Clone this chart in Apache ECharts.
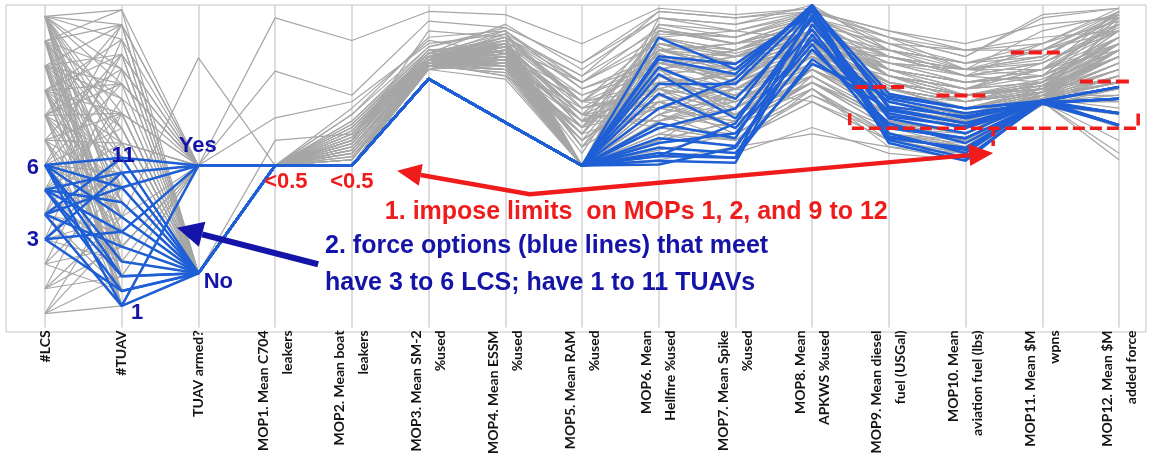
<!DOCTYPE html>
<html>
<head>
<meta charset="utf-8">
<script src="https://cdn.jsdelivr.net/npm/echarts@6/dist/echarts.min.js"></script>
<style>
  html, body { margin: 0; padding: 0; background: #fff; }
  #chart { width: 1153px; height: 457px; }
</style>
</head>
<body>
<div id="chart"></div>
<script>
const dimensions = [
  '#LCS', '#TUAV', 'TUAV armed?',
  'MOP1. Mean C704\nleakers', 'MOP2. Mean boat\nleakers', 'MOP3. Mean SM-2\n%used',
  'MOP4. Mean ESSM\n%used', 'MOP5. Mean RAM\n%used', 'MOP6. Mean\nHellfire %used',
  'MOP7. Mean Spike\n%used', 'MOP8. Mean\nAPKWS %used', 'MOP9. Mean diesel\nfuel (USGal)',
  'MOP10. Mean\naviation fuel (lbs)', 'MOP11. Mean $M\nwpns', 'MOP12. Mean $M\nadded force'
];

// columns: #LCS, #TUAV, armed (0 = No, 1 = Yes, 2 = other), then MOP1..MOP12 as % of axis height
const grayOptions = [
  [12, 21, 1, 96, 89, 98, 97, 88, 99, 97, 99, 90, 84, 97, 99],
  [12, 19, 1, 79.5, 72, 95, 93, 82, 96, 94, 100, 86, 80, 92, 97],
  [12, 17, 0, 50.2, 58, 92, 90, 78, 92, 90, 97, 84, 78, 88, 95],
  [12, 14, 1, 50.2, 50.2, 83, 86, 50.2, 88, 85, 92, 80, 74, 82, 93],
  [12, 11, 0, 50.2, 55, 82, 80, 62, 85, 76, 90, 78, 70, 76, 90],
  [12, 8, 0, 50.2, 50.2, 81, 84, 50.2, 72, 80, 88, 75, 66, 73, 88],
  [12, 5, 0, 50.2, 62, 84, 88, 70, 90, 84, 95, 72, 68, 71, 86],
  [11, 20, 1, 50.2, 50.2, 82, 78, 50.2, 80, 66, 85, 70, 72, 74, 84],
  [11, 15, 0, 50.2, 53, 81, 83, 58, 76, 72, 82, 68, 64, 72, 82],
  [11, 10, 0, 50.2, 50.2, 80, 86, 50.2, 68, 70, 80, 66, 62, 73, 80],
  [11, 6, 1, 50.2, 57, 83, 82, 66, 62, 58, 78, 64, 60, 70, 78],
  [11, 3, 0, 50.2, 50.2, 82, 89, 50.2, 58, 64, 76, 62, 58, 75, 76],
  [10, 18, 1, 50.2, 66, 90, 92, 74, 84, 82, 94, 88, 86, 90, 92],
  [10, 13, 0, 50.2, 50.2, 81, 79, 50.2, 55, 60, 72, 60, 57, 69, 74],
  [10, 9, 0, 50.2, 52, 82, 84, 60, 87, 78, 86, 76, 72, 77, 88],
  [10, 7, 2, 50.2, 50.2, 83, 81, 50.2, 64, 74, 70, 58, 56, 72, 72],
  [10, 4, 0, 50.2, 60, 84, 90, 76, 93, 88, 91, 82, 76, 80, 86],
  [9, 16, 1, 50.2, 50.2, 82, 87, 50.2, 94, 92, 89, 84, 80, 84, 96],
  [9, 12, 0, 50.2, 54, 81, 83, 64, 78, 68, 84, 74, 70, 74, 84],
  [9, 8, 0, 50.2, 50.2, 80, 77, 50.2, 60, 56, 74, 56, 54, 70, 58],
  [9, 5, 1, 50.2, 68, 89, 85, 72, 82, 86, 96, 78, 74, 78, 90],
  [9, 2, 0, 50.2, 50.2, 82, 88, 56, 70, 62, 80, 70, 66, 72, 80],
  [8, 17, 0, 50.2, 52, 82, 86, 50.2, 86, 80, 88, 62, 60, 73, 82],
  [8, 11, 1, 50.2, 50.2, 81, 80, 50.2, 66, 76, 92, 86, 82, 86, 94],
  [8, 7, 0, 50.2, 59, 83, 91, 68, 74, 70, 78, 66, 64, 71, 76],
  [8, 3, 0, 50.2, 50.2, 81, 84, 50.2, 56, 54, 62, 54, 52, 70, 54],
  [7, 14, 0, 50.2, 56, 82, 78, 62, 91, 90, 98, 90, 80, 83, 98],
  [7, 9, 1, 50.2, 50.2, 80, 82, 50.2, 80, 84, 86, 72, 68, 74, 86],
  [7, 6, 0, 50.2, 63, 85, 94, 80, 96, 92, 97, 80, 72, 76, 90],
  [7, 2, 0, 50.2, 50.2, 82, 86, 50.2, 62, 66, 82, 68, 63, 72, 78],
  [6, 13, 0, 50.2, 50.2, 81, 83, 50.2, 72, 62, 76, 64, 60, 71, 74],
  [6, 10, 1, 50.2, 55, 83, 87, 66, 88, 82, 90, 76, 70, 75, 84],
  [5, 12, 0, 50.2, 50.2, 82, 80, 50.2, 58, 72, 84, 74, 68, 73, 80],
  [5, 8, 0, 50.2, 61, 84, 89, 70, 76, 78, 88, 70, 66, 72, 82],
  [4, 15, 1, 50.2, 50.2, 81, 84, 50.2, 84, 74, 80, 66, 62, 72, 76],
  [4, 6, 0, 50.2, 53, 80, 82, 60, 68, 64, 74, 60, 58, 70, 72],
  [3, 11, 0, 50.2, 50.2, 82, 85, 54, 90, 86, 92, 78, 74, 80, 88],
  [3, 4, 0, 50.2, 58, 83, 81, 64, 64, 70, 82, 72, 70, 74, 84],
  [2, 9, 0, 50.2, 50.2, 81, 86, 50.2, 78, 82, 86, 84, 78, 82, 92],
  [2, 5, 1, 50.2, 57, 84, 90, 74, 82, 76, 84, 68, 62, 71, 76],
  [1, 7, 0, 50.2, 50.2, 82, 83, 50.2, 70, 60, 72, 62, 56, 70, 70],
  [1, 3, 0, 50.2, 64, 86, 88, 66, 86, 88, 94, 80, 76, 78, 88],
  [0, 6, 0, 50.2, 50.2, 81, 80, 50.2, 60, 68, 80, 70, 64, 72, 78],
  [0, 1, 0, 50.2, 52, 82, 84, 58, 74, 80, 90, 76, 72, 76, 86],
  [12, 13, 0, 50.2, 50.2, 82, 87, 50.2, 66, 58, 70, 58, 54, 69, 66],
  [11, 12, 1, 65, 70, 88, 91, 78, 98, 96, 98, 92, 88, 94, 96],
  [10, 16, 0, 58, 60, 86, 84, 70, 80, 72, 86, 74, 70, 76, 86],
  [9, 10, 0, 50.2, 50.2, 80, 88, 50.2, 52, 56, 60, 56, 52, 70, 52],
  [12, 9, 0, 50.2, 66, 87, 92, 76, 88, 84, 92, 82, 80, 86, 92],
  [11, 4, 1, 50.2, 50.2, 81, 84, 50.2, 76, 66, 76, 64, 60, 72, 74],
  [10, 2, 0, 50.2, 55, 83, 86, 62, 92, 88, 94, 78, 74, 80, 90],
  [8, 14, 0, 50.2, 50.2, 82, 82, 50.2, 70, 74, 84, 72, 68, 73, 82],
  [6, 16, 1, 50.2, 59, 84, 81, 68, 82, 78, 88, 76, 72, 75, 84],
  [9, 19, 0, 50.2, 50.2, 83, 90, 50.2, 86, 82, 90, 80, 76, 78, 88],
  [12, 20, 0, 50.2, 50.2, 82, 85, 50.2, 78, 74, 88, 74, 70, 73, 95],
  [12, 16, 1, 50.2, 56, 83, 88, 64, 94, 90, 96, 86, 78, 80, 98],
  [12, 12, 0, 50.2, 50.2, 81, 82, 50.2, 70, 66, 80, 68, 64, 72, 86],
  [12, 7, 1, 50.2, 61, 85, 91, 70, 86, 80, 92, 82, 76, 78, 97],
  [12, 3, 0, 50.2, 50.2, 82, 86, 50.2, 64, 72, 86, 76, 72, 74, 90],
  [12, 1, 0, 50.2, 54, 81, 80, 58, 74, 62, 76, 62, 58, 71, 80],
  [11, 21, 0, 50.2, 50.2, 84, 92, 50.2, 96, 94, 98, 92, 86, 88, 99],
  [11, 17, 1, 50.2, 63, 86, 87, 76, 90, 86, 94, 80, 74, 76, 92],
  [11, 13, 0, 50.2, 50.2, 82, 84, 50.2, 82, 78, 90, 70, 66, 72, 88],
  [11, 8, 0, 50.2, 58, 83, 86, 62, 68, 76, 84, 78, 72, 74, 94],
  [11, 5, 1, 50.2, 50.2, 81, 79, 50.2, 60, 58, 70, 60, 56, 71, 68],
  [11, 1, 0, 50.2, 52, 82, 85, 56, 86, 84, 90, 74, 68, 73, 84],
  [10, 20, 1, 50.2, 50.2, 83, 88, 50.2, 92, 88, 96, 88, 82, 84, 97],
  [10, 15, 0, 50.2, 57, 84, 86, 66, 76, 70, 82, 66, 62, 71, 78],
  [10, 11, 1, 50.2, 50.2, 81, 83, 50.2, 88, 82, 92, 82, 78, 76, 96],
  [10, 6, 0, 50.2, 62, 85, 89, 72, 80, 86, 94, 84, 80, 82, 92],
  [10, 1, 0, 50.2, 50.2, 82, 84, 50.2, 58, 64, 78, 64, 60, 72, 76],
  [9, 18, 0, 50.2, 54, 82, 80, 60, 84, 76, 86, 72, 68, 73, 84],
  [9, 14, 1, 50.2, 50.2, 83, 90, 50.2, 90, 92, 98, 90, 84, 96, 99],
  [9, 7, 0, 50.2, 59, 84, 87, 68, 72, 68, 80, 70, 66, 72, 82],
  [9, 3, 1, 50.2, 50.2, 81, 82, 50.2, 66, 72, 88, 80, 76, 78, 90],
  [8, 20, 0, 50.2, 50.2, 82, 86, 50.2, 80, 84, 92, 84, 80, 80, 94],
  [8, 16, 1, 50.2, 60, 85, 84, 70, 74, 66, 78, 64, 58, 70, 74],
  [8, 9, 0, 50.2, 50.2, 81, 88, 50.2, 84, 80, 86, 76, 72, 75, 88],
  [8, 5, 0, 50.2, 55, 82, 83, 60, 92, 90, 96, 86, 82, 86, 97],
  [8, 1, 1, 50.2, 50.2, 82, 80, 50.2, 62, 60, 74, 58, 54, 70, 62],
  [7, 18, 0, 50.2, 50.2, 83, 89, 50.2, 88, 86, 92, 78, 74, 76, 92],
  [7, 12, 1, 50.2, 58, 84, 86, 66, 70, 74, 86, 74, 70, 73, 86],
  [7, 4, 0, 50.2, 50.2, 81, 84, 50.2, 78, 70, 82, 68, 64, 72, 80],
  [6, 20, 0, 50.2, 64, 87, 93, 82, 98, 96, 99, 88, 80, 78, 96],
  [6, 8, 0, 50.2, 50.2, 82, 81, 50.2, 66, 62, 76, 66, 62, 71, 78],
  [6, 5, 1, 50.2, 52, 81, 85, 56, 80, 78, 88, 80, 76, 80, 92],
  [5, 18, 1, 50.2, 50.2, 83, 88, 50.2, 86, 88, 94, 84, 78, 82, 94],
  [5, 14, 0, 50.2, 60, 84, 83, 64, 74, 80, 90, 78, 72, 74, 88],
  [5, 4, 0, 50.2, 50.2, 81, 86, 50.2, 62, 58, 72, 62, 58, 70, 70],
  [4, 19, 0, 50.2, 50.2, 82, 84, 50.2, 90, 84, 90, 76, 70, 73, 86],
  [4, 10, 1, 50.2, 56, 83, 87, 62, 78, 72, 84, 72, 68, 72, 82],
  [4, 2, 0, 50.2, 50.2, 81, 82, 50.2, 72, 76, 86, 82, 80, 84, 96],
  [3, 17, 1, 50.2, 50.2, 82, 86, 50.2, 82, 80, 88, 86, 82, 88, 98],
  [3, 7, 0, 50.2, 62, 85, 90, 70, 68, 64, 76, 64, 60, 71, 74],
  [2, 14, 0, 50.2, 50.2, 82, 84, 50.2, 74, 70, 84, 70, 66, 72, 84],
  [2, 2, 0, 50.2, 54, 81, 81, 58, 86, 82, 92, 78, 72, 75, 90],
  [1, 12, 1, 50.2, 50.2, 82, 87, 50.2, 92, 88, 96, 90, 86, 86, 98],
  [1, 5, 0, 50.2, 58, 84, 88, 66, 64, 68, 80, 66, 62, 71, 76],
  [0, 9, 0, 50.2, 50.2, 81, 83, 50.2, 80, 74, 86, 74, 70, 73, 86],
  [0, 3, 1, 50.2, 60, 83, 86, 64, 70, 60, 74, 60, 56, 70, 72]
];

const blueOptions = [
  [6, 1, 0, 50.2, 50.2, 77.1, 63.6, 50.2, 89.9, 80.1, 99.1, 72.5, 67.9, 70.3, 74.6],
  [6, 4, 0, 50.2, 50.2, 77.1, 63.6, 50.2, 84.1, 81.7, 97.9, 70.9, 66.4, 69.7, 70.9],
  [6, 9, 1, 50.2, 50.2, 77.1, 63.6, 50.2, 83.2, 78.6, 100, 67.9, 63.3, 70.0, 66.4],
  [6, 11, 0, 50.2, 50.2, 77.1, 63.6, 50.2, 80.7, 70.9, 95.4, 64.8, 60.2, 70.3, 62.7],
  [6, 7, 0, 50.2, 50.2, 77.1, 63.6, 50.2, 78.6, 64.8, 92.4, 61.8, 58.7, 69.4, 70.9],
  [5, 2, 0, 50.2, 50.2, 77.1, 63.6, 50.2, 75.5, 75.5, 98.5, 58.7, 55.7, 69.7, 66.4],
  [5, 6, 1, 50.2, 50.2, 77.1, 63.6, 50.2, 72.5, 61.8, 89.3, 70.0, 64.8, 70.0, 74.6],
  [5, 10, 0, 50.2, 50.2, 77.1, 63.6, 50.2, 63.3, 58.7, 96.9, 57.2, 51.7, 70.3, 62.7],
  [5, 3, 0, 50.2, 50.2, 77.1, 63.6, 50.2, 58.7, 56.3, 86.2, 63.3, 57.2, 69.7, 70.9],
  [5, 8, 0, 50.2, 50.2, 77.1, 63.6, 50.2, 55.7, 54.1, 81.7, 71.6, 67.9, 70.0, 66.4],
  [4, 1, 1, 50.2, 50.2, 77.1, 63.6, 50.2, 53.2, 52.6, 99.1, 60.2, 54.1, 70.3, 74.6],
  [4, 5, 0, 50.2, 50.2, 77.1, 63.6, 50.2, 51.7, 51.1, 93.9, 66.4, 61.8, 69.4, 62.7],
  [4, 9, 0, 50.2, 50.2, 77.1, 63.6, 50.2, 50.5, 55.7, 90.8, 62.4, 58.7, 69.7, 70.9],
  [4, 11, 1, 50.2, 50.2, 77.1, 63.6, 50.2, 67.9, 77.1, 100, 68.5, 65.4, 70.3, 66.4],
  [3, 2, 0, 50.2, 50.2, 77.1, 63.6, 50.2, 57.2, 60.2, 87.8, 59.3, 55.0, 70.0, 62.7],
  [3, 6, 0, 50.2, 50.2, 77.1, 63.6, 50.2, 53.2, 63.3, 96.0, 65.4, 62.4, 70.3, 74.6],
  [3, 10, 1, 50.2, 50.2, 77.1, 63.6, 50.2, 61.8, 67.9, 98.5, 58.1, 52.6, 69.7, 70.9],
  [6, 3, 0, 50.2, 50.2, 77.1, 63.6, 50.2, 54.1, 52.6, 83.2, 67.3, 63.3, 69.4, 66.4]
];

// the first three columns are counts / categories: [domain min, domain max, axis % at min, axis % at max]
const discreteScales = [[0, 12, 4.3, 96.5], [0, 21, 2.1, 98.5], [0, 2, 16.8, 83.6]];

const BLUE_TXT = '#1414a8';
const RED = '#f01c1c';

function toAxis(row) {
  return row.map((val, i) => {
    const s = discreteScales[i];
    const v = s ? s[2] + (val - s[0]) / (s[1] - s[0]) * (s[3] - s[2]) : val;
    return [i, v];
  });
}

const series = [];
grayOptions.forEach(r => series.push({
  type: 'line', xAxisIndex: 1, yAxisIndex: 1, data: toAxis(r),
  symbol: 'none', silent: true, z: 2,
  lineStyle: { color: '#a6a6a6', width: 1.2 }
}));
blueOptions.forEach(r => series.push({
  type: 'line', xAxisIndex: 1, yAxisIndex: 1, data: toAxis(r),
  symbol: 'none', silent: true, z: 3,
  lineStyle: { color: '#1f5fd6', width: 2.5 }
}));

const chart = echarts.init(document.getElementById('chart'));
chart.setOption({
  animation: false,
  backgroundColor: '#fff',
  grid: [
    { left: 6, right: 7, top: 5, bottom: 125, show: true, borderColor: '#c4c4c4', borderWidth: 1, backgroundColor: 'transparent' },
    { left: 45, right: 34, top: 5, bottom: 125 }
  ],
  xAxis: [
    { gridIndex: 0, type: 'value', show: false },
    {
      gridIndex: 1, type: 'value', min: 0, max: dimensions.length - 1, interval: 1,
      axisLine: { show: false }, axisTick: { show: false },
      splitLine: { show: true, lineStyle: { color: '#d2d2d2', width: 1.5 } },
      axisLabel: {
        rotate: 90, margin: 3, color: '#141414', fontFamily: 'Lato', fontWeight: 'bold',
        fontSize: 14, lineHeight: 24,
        formatter: v => dimensions[v] || ''
      }
    }
  ],
  yAxis: [
    { gridIndex: 0, type: 'value', show: false },
    { gridIndex: 1, type: 'value', min: 0, max: 100, show: false }
  ],
  series: series
});

// annotations, placed in axis coordinates (x = axis index, y = % of axis height)
const notes = [
  { text: '6', at: [-0.08, 49.5], align: 'right', color: BLUE_TXT, size: 22 },
  { text: '3', at: [-0.08, 27.2], align: 'right', color: BLUE_TXT, size: 22 },
  { text: '11', at: [1.02, 53.2], align: 'center', color: BLUE_TXT, size: 22 },
  { text: '1', at: [1.2, 4.6], align: 'center', color: BLUE_TXT, size: 22 },
  { text: 'Yes', at: [1.99, 56.3], align: 'center', color: BLUE_TXT, size: 22 },
  { text: 'No', at: [2.26, 14.1], align: 'center', color: BLUE_TXT, size: 22 },
  { text: '<0.5', at: [3.14, 45.0], align: 'center', color: RED, size: 22 },
  { text: '<0.5', at: [4.0, 45.0], align: 'center', color: RED, size: 22 },
  { text: '1. impose limits  on MOPs 1, 2, and 9 to 12', at: [4.43, 35.8], align: 'left', color: RED, size: 25 },
  { text: '2. force options (blue lines) that meet', at: [3.65, 25.1], align: 'left', color: BLUE_TXT, size: 25 },
  { text: 'have 3 to 6 LCS; have 1 to 11 TUAVs', at: [3.65, 13.8], align: 'left', color: BLUE_TXT, size: 25 }
];
const limitDashes = [
  [[10.56, 74.6], [11.24, 74.6]],
  [[11.62, 71.9], [12.30, 71.9]],
  [[12.59, 85.3], [13.27, 85.3]],
  [[13.49, 76.3], [14.18, 76.3]]
];
const bracket = [[10.49, 66.4], [10.49, 61.8], [14.25, 61.8], [14.25, 66.4]];
const bracketStub = [[12.36, 61.8], [12.36, 56.3]];
const redArrow = [[12.36, 54.1], [6.32, 41.3], [4.59, 48.6]];
const blueArrow = [[3.56, 19.6], [1.72, 30.9]];

const P = p => chart.convertToPixel({ gridIndex: 1 }, p);

function head(tip, from, len, half) {
  const dx = tip[0] - from[0], dy = tip[1] - from[1];
  const d = Math.hypot(dx, dy), ux = dx / d, uy = dy / d;
  const bx = tip[0] - ux * len, by = tip[1] - uy * len;
  return {
    base: [bx, by],
    tri: [tip, [bx - uy * half, by + ux * half], [bx + uy * half, by - ux * half]]
  };
}

const g = [];
notes.forEach(n => {
  const p = P(n.at);
  g.push({
    type: 'text', x: p[0], y: p[1], z: 10,
    style: {
      text: n.text, fill: n.color,
      font: 'bold ' + n.size + 'px "Liberation Sans", Arial, sans-serif',
      align: n.align, verticalAlign: 'middle',
      textAlign: n.align, textVerticalAlign: 'middle'
    }
  });
});

limitDashes.forEach(seg => g.push({
  type: 'polyline', z: 10, shape: { points: seg.map(P) },
  style: { stroke: RED, lineWidth: 4, lineDash: [13, 5], fill: null }
}));
g.push({
  type: 'polyline', z: 10, shape: { points: bracket.map(P) },
  style: { stroke: RED, lineWidth: 3.5, lineDash: [12, 5], fill: null, lineJoin: 'round' }
});
g.push({
  type: 'polyline', z: 10, shape: { points: bracketStub.map(P) },
  style: { stroke: RED, lineWidth: 3.5, lineDash: [8, 4], fill: null }
});

// red double arrow
const rp = redArrow.map(P);
const hR = head(rp[0], rp[1], 24, 11);
const hL = head(rp[2], rp[1], 24, 11);
g.push({
  type: 'polyline', z: 10, shape: { points: [hR.base, rp[1], hL.base] },
  style: { stroke: RED, lineWidth: 4.5, fill: null, lineJoin: 'round' }
});
g.push({ type: 'polygon', z: 10, shape: { points: hR.tri }, style: { fill: RED } });
g.push({ type: 'polygon', z: 10, shape: { points: hL.tri }, style: { fill: RED } });

// blue arrow
const bp = blueArrow.map(P);
const hB = head(bp[1], bp[0], 26, 13);
g.push({
  type: 'polyline', z: 10, shape: { points: [bp[0], hB.base] },
  style: { stroke: BLUE_TXT, lineWidth: 6, fill: null }
});
g.push({ type: 'polygon', z: 10, shape: { points: hB.tri }, style: { fill: BLUE_TXT } });

chart.setOption({ graphic: { elements: g } });
</script>
</body>
</html>
